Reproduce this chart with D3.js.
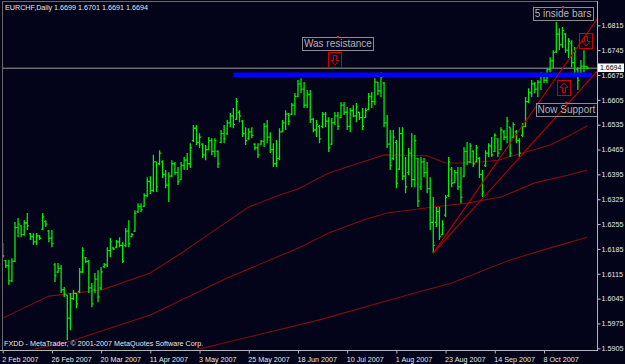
<!DOCTYPE html>
<html>
<head>
<meta charset="utf-8">
<script src="https://cdnjs.cloudflare.com/ajax/libs/d3/7.8.5/d3.min.js"></script>
<style>
body { margin: 0; background: #03031a; }
svg { display: block; }
text { font-family: "Liberation Sans", Arial, sans-serif; }
</style>
</head>
<body>
<script>
// size of the picture
var width = 625, height = 364;
var plot = {left: 3, right: 597, top: 2, bottom: 350};

var titleText = "EURCHF,Daily  1.6699 1.6701 1.6691 1.6694";
var copyText = "FXDD - MetaTrader, \u00a9 2001-2007 MetaQuotes Software Corp.";

// date axis, a label every 16 bars
var dateTickBars = [0, 16, 32, 48, 64, 80, 96, 112, 128, 144, 160, 176];
var dateTickLabels = ["2 Feb 2007", "26 Feb 2007", "20 Mar 2007", "11 Apr 2007", "3 May 2007", "25 May 2007",
	"18 Jun 2007", "10 Jul 2007", "1 Aug 2007", "23 Aug 2007", "14 Sep 2007", "8 Oct 2007"];

var priceTicks = [1.6815, 1.6745, 1.6675, 1.6605, 1.6535, 1.6465, 1.6395, 1.6325, 1.6255,
	1.6185, 1.6115, 1.6045, 1.5975, 1.5905];

// daily bars, prices in 1/10000 above 1 (6195 -> 1.6195)
var opens = [6195,6152,6138,6095,6150,6245,6250,6225,6258,6228,
	6220,6205,6222,6240,6262,6235,6215,6140,6120,6130,
	6070,6055,5990,6045,6060,6065,6120,6160,6150,6075,
	6070,6100,6075,6135,6140,6180,6188,6190,6205,6195,
	6195,6235,6220,6235,6290,6305,6305,6335,6375,6350,
	6430,6425,6430,6395,6365,6390,6425,6400,6380,6420,
	6435,6425,6490,6525,6485,6480,6450,6465,6490,6460,
	6460,6485,6510,6510,6540,6560,6550,6570,6545,6510,
	6495,6515,6480,6470,6480,6488,6530,6500,6465,6425,
	6440,6515,6540,6565,6565,6590,6615,6650,6635,6590,
	6620,6550,6520,6530,6530,6565,6545,6480,6540,6560,
	6555,6590,6570,6530,6575,6560,6570,6555,6555,6578,
	6615,6600,6655,6630,6652,6540,6480,6440,6485,6410,
	6510,6390,6400,6455,6380,6440,6360,6430,6400,6355,
	6260,6260,6290,6225,6280,6335,6410,6372,6400,6360,
	6390,6460,6430,6460,6430,6440,6395,6420,6455,6475,
	6460,6495,6465,6515,6500,6528,6500,6515,6490,6505,
	6530,6600,6625,6650,6635,6655,6675,6660,6690,6715,
	6740,6790,6760,6790,6745,6765,6710,6690,6680,6700,
	6699];
var highs = [6202,6154,6154,6159,6261,6272,6252,6266,6286,6230,
	6230,6230,6224,6286,6266,6238,6238,6145,6145,6140,
	6078,6055,6061,6069,6061,6131,6190,6162,6154,6089,
	6117,6125,6134,6145,6190,6216,6190,6210,6218,6204,
	6244,6266,6230,6294,6314,6314,6342,6387,6390,6450,
	6430,6463,6435,6407,6401,6435,6430,6416,6430,6444,
	6455,6483,6534,6534,6511,6483,6478,6500,6497,6497,
	6463,6520,6534,6548,6568,6582,6610,6576,6548,6528,
	6525,6528,6483,6483,6492,6540,6548,6514,6483,6492,
	6525,6548,6576,6568,6596,6624,6661,6666,6655,6633,
	6633,6554,6548,6534,6571,6571,6556,6554,6571,6571,
	6599,6599,6585,6582,6590,6596,6571,6582,6582,6624,
	6627,6666,6655,6683,6655,6562,6520,6520,6492,6528,
	6528,6444,6469,6511,6506,6441,6444,6441,6430,6387,
	6331,6303,6303,6266,6337,6444,6416,6407,6416,6416,
	6472,6486,6483,6463,6478,6444,6407,6463,6483,6500,
	6511,6497,6528,6520,6557,6528,6542,6520,6497,6540,
	6613,6638,6661,6655,6661,6683,6680,6694,6725,6745,
	6824,6807,6810,6793,6779,6773,6754,6697,6717,6745,
	6701];
var lows = [6159,6131,6083,6092,6148,6218,6218,6222,6238,6210,
	6196,6196,6210,6238,6247,6204,6190,6092,6117,6061,
	6049,5928,5956,6041,6018,6061,6117,6145,6061,6021,
	6061,6035,6069,6131,6134,6162,6182,6187,6190,6145,
	6190,6190,6218,6233,6286,6289,6303,6331,6340,6345,
	6345,6421,6385,6356,6317,6387,6393,6365,6379,6407,
	6407,6413,6486,6478,6469,6441,6435,6463,6449,6444,
	6413,6483,6483,6506,6528,6525,6548,6542,6500,6478,
	6492,6497,6463,6441,6478,6472,6483,6455,6416,6416,
	6435,6514,6520,6534,6562,6562,6613,6624,6582,6582,
	6540,6514,6500,6483,6525,6528,6458,6478,6534,6520,
	6554,6562,6520,6514,6556,6542,6548,6520,6554,6576,
	6582,6590,6618,6613,6528,6469,6407,6435,6356,6407,
	6379,6342,6393,6359,6359,6303,6351,6387,6342,6238,
	6173,6247,6210,6224,6275,6331,6359,6371,6351,6314,
	6387,6421,6427,6416,6430,6385,6331,6416,6444,6444,
	6458,6444,6463,6492,6483,6444,6497,6483,6444,6500,
	6528,6596,6613,6624,6613,6633,6652,6652,6683,6695,
	6737,6745,6751,6737,6723,6697,6669,6633,6680,6683,
	6691];
var closes = [6165,6138,6095,6150,6245,6255,6225,6258,6250,6220,
	6205,6222,6215,6275,6255,6215,6200,6110,6130,6070,
	6058,5990,6045,6060,6030,6120,6180,6150,6075,6030,
	6100,6050,6120,6140,6180,6205,6185,6205,6195,6150,
	6235,6200,6225,6285,6305,6295,6335,6375,6350,6430,
	6360,6455,6395,6365,6390,6425,6400,6375,6420,6435,
	6425,6470,6525,6485,6500,6450,6465,6490,6460,6490,
	6425,6510,6495,6540,6560,6535,6600,6560,6510,6490,
	6515,6505,6470,6450,6488,6530,6500,6465,6425,6440,
	6515,6540,6565,6545,6590,6615,6650,6635,6590,6620,
	6550,6520,6535,6495,6565,6545,6470,6540,6560,6530,
	6590,6570,6530,6575,6560,6585,6555,6530,6575,6615,
	6600,6655,6630,6670,6540,6480,6420,6500,6370,6510,
	6390,6360,6455,6380,6490,6320,6430,6400,6355,6260,
	6195,6290,6220,6255,6330,6430,6370,6400,6360,6330,
	6460,6430,6475,6425,6470,6395,6345,6455,6475,6450,
	6505,6455,6520,6500,6545,6455,6535,6490,6455,6530,
	6600,6625,6650,6635,6655,6675,6660,6690,6715,6738,
	6790,6760,6800,6745,6770,6710,6740,6660,6700,6699,
	6694];

// moving averages, [bar, price]
var maFast = [[0,5990],[15,6052],[32,6069],[48,6117],[58,6173],[69,6238],[80,6303],[90,6337],[96,6354],
	[106,6399],[117,6430],[124,6450],[138,6447],[144,6427],[152,6427],[161,6435],[169,6455],[178,6478],[184,6503],[190,6531]];
var maMid = [[0,5870],[9,5900],[22,5925],[48,5999],[73,6103],[96,6187],[106,6230],[117,6266],[125,6286],
	[140,6303],[151,6314],[162,6331],[173,6371],[184,6393],[190,6407]];
var maSlow = [[40,5850],[60,5895],[103,5985],[129,6049],[146,6089],[165,6154],[178,6188],[190,6218]];

// drawn objects
var trendLines = [[[140,6173],[193.3,6833]], [[140,6173],[193.3,6686]]];
var resistance = [[75,6676],[191.6,6676]];
var lastPrice = 6694;
var noteTexts = ["Was resistance", "5 inside bars", "Now Support"];
var noteBars = [109, 182.2, 183.3];
var notePrices = [6782, 6866, 6596];
var arrowDirs = ["down", "down", "up"];
var arrowBars = [108.2, 189.5, 182.4];
var arrowPrices = [6740, 6793, 6661];

var toPrice = function(v) { return 1 + v / 10000; };

var svg = d3.select("body")
	.append("svg")
	.attr("width", width)
	.attr("height", height);

svg.append("rect")
	.attr("width", width)
	.attr("height", height)
	.attr("fill", "#03031a");

var x = d3.scaleLinear().domain([0, 176]).range([2.7, 544]);
var y = d3.scaleLinear().domain([1.5905, 1.6815]).range([348.3, 25.3]);

svg.append("clipPath")
	.attr("id", "plotclip")
	.append("rect")
	.attr("x", plot.left)
	.attr("y", plot.top)
	.attr("width", plot.right - plot.left)
	.attr("height", plot.bottom - plot.top - 0.5);

var g = svg.append("g").attr("clip-path", "url(#plotclip)");

// last price line
g.append("line")
	.attr("x1", plot.left).attr("x2", plot.right)
	.attr("y1", y(toPrice(lastPrice))).attr("y2", y(toPrice(lastPrice)))
	.attr("stroke", "#6a6a6a")
	.attr("stroke-width", 1.5);

// moving averages
var maLine = d3.line()
	.x(function(d) { return x(d[0]); })
	.y(function(d) { return y(toPrice(d[1])); });

[maFast, maMid, maSlow].forEach(function(ma) {
	g.append("path")
		.attr("d", maLine(ma))
		.attr("fill", "none")
		.attr("stroke", "#840c0c")
		.attr("stroke-width", 1.1);
});

// bars
var bars = d3.range(opens.length);
g.append("g")
	.selectAll("path")
	.data(bars)
	.enter()
	.append("path")
	.attr("d", function(i) {
		var bx = x(i);
		var yo = y(toPrice(opens[i]));
		var yc = y(toPrice(closes[i]));
		return "M" + bx + "," + y(toPrice(highs[i])) + "V" + y(toPrice(lows[i])) +
			"M" + (bx - 1.5) + "," + yo + "H" + bx +
			"M" + bx + "," + yc + "H" + (bx + 1.5);
	})
	.attr("fill", "none")
	.attr("stroke", "#00f000")
	.attr("stroke-width", 1.3);

// blue resistance line
g.append("path")
	.attr("d", maLine(resistance))
	.attr("stroke", "#0000ff")
	.attr("stroke-width", 4.5);

// trend lines
trendLines.forEach(function(t) {
	g.append("path")
		.attr("d", maLine(t))
		.attr("fill", "none")
		.attr("stroke", "#b80000")
		.attr("stroke-width", 1.1);
});

// text notes with a grey frame
noteTexts.forEach(function(s, k) {
	var cx = x(noteBars[k]), top = y(toPrice(notePrices[k]));
	var t = svg.append("text")
		.attr("x", cx)
		.attr("y", top + 10)
		.attr("text-anchor", "middle")
		.attr("font-size", "10px")
		.attr("fill", "#b4b4b4")
		.text(s);
	var b = t.node().getBBox();
	svg.insert("rect", "text")
		.attr("x", Math.round(b.x) - 1.5)
		.attr("y", Math.round(top) + 0.5)
		.attr("width", Math.round(b.width) + 3)
		.attr("height", 13)
		.attr("fill", "none")
		.attr("stroke", "#8c8c8c")
		.attr("stroke-width", 1);
	svg.append("circle")
		.attr("cx", cx)
		.attr("cy", top)
		.attr("r", 1.2)
		.attr("fill", "#e03030");
});

// arrows in red boxes
arrowDirs.forEach(function(dir, k) {
	var cx = x(arrowBars[k]), top = y(toPrice(arrowPrices[k]));
	var a = svg.append("g")
		.attr("transform", "translate(" + (Math.round(cx) - 6.5) + "," + (Math.round(top) + 0.5) + ")");
	a.append("rect")
		.attr("width", 13)
		.attr("height", 15)
		.attr("fill", "none")
		.attr("stroke", "#d00000");
	var p = dir == "down"
		? "M5,3 H8 V8 H10.5 L6.5,12.5 L2.5,8 H5 Z"
		: "M5,12 H8 V7 H10.5 L6.5,2.5 L2.5,7 H5 Z";
	a.append("path")
		.attr("d", p)
		.attr("fill", "none")
		.attr("stroke", "#d00000");
});

// frame
svg.append("path")
	.attr("d", "M" + (plot.left - 0.5) + "," + plot.bottom + "V1.5H" + plot.right)
	.attr("fill", "none")
	.attr("stroke", "#6a6a6a");

// price axis
var yAxis = d3.axisRight(y)
	.tickValues(priceTicks)
	.tickFormat(d3.format(".4f"))
	.tickSize(3)
	.tickPadding(1);

var ya = svg.append("g")
	.attr("transform", "translate(" + (plot.right + 0.5) + ",0)")
	.call(yAxis);
ya.select(".domain").remove();
ya.selectAll("line").attr("stroke", "#c8c8c8");
ya.selectAll("text")
	.attr("fill", "#e6e6e6")
	.attr("font-size", "7.2px")
	.attr("font-family", "Liberation Sans, Arial, sans-serif");

svg.append("line")
	.attr("x1", plot.right + 0.5).attr("x2", plot.right + 0.5)
	.attr("y1", 1).attr("y2", plot.bottom + 1)
	.attr("stroke", "#b4b4b4");

// last price label
var ly = Math.round(y(toPrice(lastPrice)));
svg.append("rect")
	.attr("x", plot.right + 1)
	.attr("y", ly - 4.5)
	.attr("width", 26)
	.attr("height", 8.5)
	.attr("fill", "#ffffff");
svg.append("text")
	.attr("x", plot.right + 3)
	.attr("y", ly + 2)
	.attr("font-size", "7px")
	.attr("fill", "#000000")
	.text(toPrice(lastPrice).toFixed(4));

// date axis
var xAxis = d3.axisBottom(x)
	.tickValues(dateTickBars)
	.tickFormat(function(d, i) { return dateTickLabels[i]; })
	.tickSize(3)
	.tickPadding(3);

var xa = svg.append("g")
	.attr("transform", "translate(0," + (plot.bottom + 0.5) + ")")
	.call(xAxis);
xa.select(".domain").remove();
xa.selectAll("line").attr("stroke", "#b4b4b4");
xa.selectAll("text")
	.attr("fill", "#e6e6e6")
	.attr("font-size", "7.2px")
	.attr("font-family", "Liberation Sans, Arial, sans-serif")
	.attr("text-anchor", "start")
	.attr("dx", "-1px");

svg.append("line")
	.attr("x1", 0).attr("x2", plot.right + 1)
	.attr("y1", plot.bottom + 0.5).attr("y2", plot.bottom + 0.5)
	.attr("stroke", "#b4b4b4");

// title and copyright
svg.append("text")
	.attr("x", 5)
	.attr("y", 10)
	.attr("font-size", "7.2px")
	.attr("fill", "#e6e6e6")
	.text(titleText);

svg.append("text")
	.attr("x", 4)
	.attr("y", 345.5)
	.attr("font-size", "7.2px")
	.attr("fill", "#e6e6e6")
	.text(copyText);
</script>
</body>
</html>
